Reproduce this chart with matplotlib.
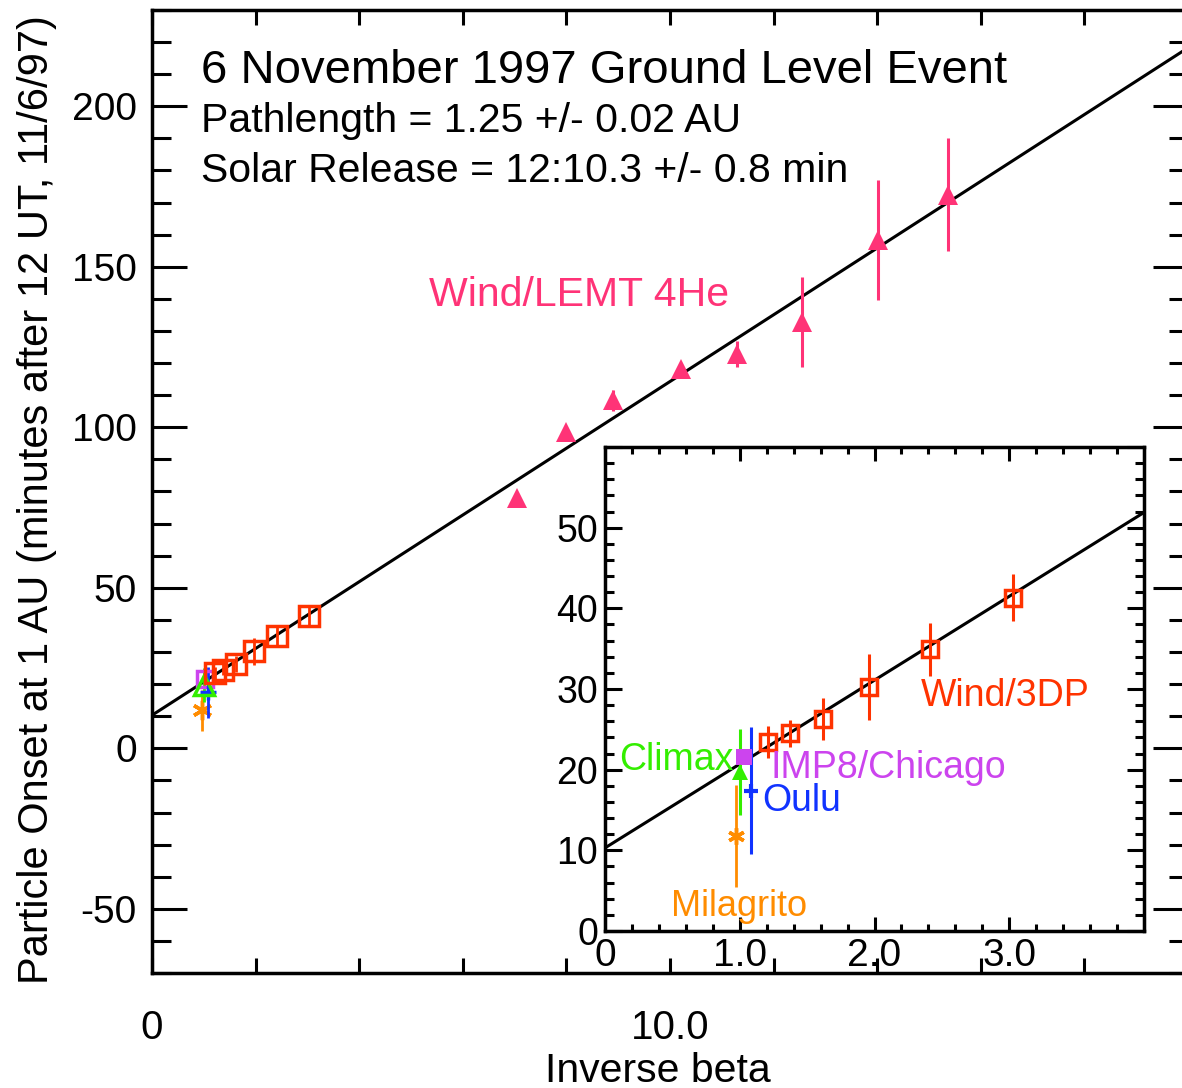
import numpy as np
import matplotlib.pyplot as plt

plt.rcParams['font.family'] = ['Liberation Sans', 'DejaVu Sans']
plt.rcParams['axes.unicode_minus'] = False

W, H = 1182, 1088

# fit parameters (from the annotation)
path_au = 1.25
release_min = 10.3
min_per_au = 8.317

# Wind/LEMT 4He (main panel only)
lemt_x = [7.04, 8.0, 8.89, 10.22, 11.29, 12.54, 14.02, 15.37]
lemt_y = [78.1, 98.4, 108.4, 118.2, 122.9, 132.8, 158.4, 172.5]
lemt_err = [1.5, 1.5, 3.2, 1.5, 4.0, 14.0, 18.7, 17.6]

# Wind/3DP
tdp_x = [1.21, 1.37, 1.62, 1.96, 2.41, 3.03]
tdp_y = [23.4, 24.5, 26.3, 30.2, 34.9, 41.3]
tdp_err = [2.0, 1.7, 2.6, 4.1, 3.3, 2.9]

# neutron monitors / other
climax_x, climax_y, climax_err = [1.00], [19.7], [5.3]
imp8_x, imp8_y = [1.03], [21.6]
oulu_x, oulu_y, oulu_err = [1.08], [17.4], [7.9]
milag_x, milag_y, milag_err = [0.97], [11.8], [6.3]

main_xticks = list(range(0, 21, 2))
main_xlabels = ['0', '', '', '', '', '10.0', '', '', '', '', '']
main_yticks = [-50, 0, 50, 100, 150, 200]
inset_xticks = [0, 1, 2, 3, 4]
inset_xlabels = ['0', '1.0', '2.0', '3.0', '']
inset_yticks = [0, 10, 20, 30, 40, 50, 60]
inset_ylabels = ['0', '10', '20', '30', '40', '50', '']

red = '#FF3300'
pink = '#FF3377'
green = '#33EE00'
purple = '#CC44EE'
blue = '#1133FF'
orange = '#FF8C00'
star = (6, 2, 0)


def fpos(x, y):
    return x / W, 1 - y / H


fig = plt.figure(figsize=(W / 100, H / 100), dpi=100)

# ---------------- main panel
ax = fig.add_axes([152 / W, 1 - 973 / H, 1036 / W, 963 / H])
ax.set_xlim(0, 20)
ax.set_ylim(-70, 230)

xl = np.array([0, 20])
ax.plot(xl, release_min + min_per_au * path_au * xl, color='black', lw=2.2, zorder=2)

ax.errorbar(lemt_x, lemt_y, yerr=lemt_err, fmt='^', color=pink, ms=14, mew=0,
            elinewidth=2.2, capsize=0, zorder=3)
ax.errorbar(milag_x, milag_y, yerr=milag_err, fmt='none', ecolor=orange, elinewidth=2, zorder=3)
ax.plot(milag_x, milag_y, marker=star, color=orange, ms=14, mew=2.5, ls='none', zorder=3)
ax.errorbar(oulu_x, oulu_y, yerr=oulu_err, fmt='+', color=blue, ms=12, mew=2.5,
            elinewidth=2, capsize=0, zorder=3)
ax.errorbar(climax_x, climax_y, yerr=climax_err, fmt='^', color=green, mfc='none',
            ms=14, mew=2.5, elinewidth=2, capsize=0, zorder=3)
ax.plot(imp8_x, imp8_y, 's', color=purple, mfc='none', ms=12, mew=2.5, zorder=3)
ax.errorbar(tdp_x, tdp_y, yerr=tdp_err, fmt='s', color=red, mfc='none', ms=14,
            mew=2.5, elinewidth=2, capsize=0, zorder=4)

for s in ax.spines.values():
    s.set_linewidth(2.5)
ax.set_xticks(main_xticks)
ax.set_xticklabels(main_xlabels)
ax.set_yticks(main_yticks)
ax.set_yticks(np.arange(-70, 231, 10), minor=True)
ax.tick_params(axis='x', which='both', direction='in', top=True, length=11, width=2.2,
               labelsize=29, pad=26)
ax.tick_params(axis='y', which='major', direction='in', right=True, length=25, width=2.2,
               labelsize=28, pad=11)
ax.tick_params(axis='y', which='minor', direction='in', right=True, length=14, width=2.2)

fig.text(*fpos(201, 83), '6 November 1997 Ground Level Event', fontsize=34, va='baseline')
fig.text(*fpos(201, 132), 'Pathlength = 1.25 +/- 0.02 AU', fontsize=29.5, va='baseline')
fig.text(*fpos(201, 182), 'Solar Release = 12:10.3 +/- 0.8 min', fontsize=29.5, va='baseline')
fig.text(*fpos(429, 306), 'Wind/LEMT 4He', fontsize=29.5, color=pink, va='baseline')

fig.text(*fpos(48, 500), 'Particle Onset at 1 AU (minutes after 12 UT, 11/6/97)',
         fontsize=30, rotation=90, rotation_mode='anchor', ha='center', va='baseline')
fig.text(*fpos(658, 1082), 'Inverse beta', fontsize=29.5, ha='center', va='baseline')

# ---------------- inset
ai = fig.add_axes([605 / W, 1 - 931 / H, 539 / W, 484 / H])
ai.set_xlim(0, 4)
ai.set_ylim(0, 60)

xi = np.array([0, 4])
ai.plot(xi, release_min + min_per_au * path_au * xi, color='black', lw=2.2, zorder=2)
ai.errorbar(milag_x, milag_y, yerr=milag_err, fmt='none', ecolor=orange, elinewidth=2, zorder=3)
ai.plot(milag_x, milag_y, marker=star, color=orange, ms=12, mew=2.5, ls='none', zorder=3)
ai.errorbar(climax_x, climax_y, yerr=climax_err, fmt='^', color=green, ms=11, mew=0,
            elinewidth=2.2, capsize=0, zorder=3)
ai.errorbar(oulu_x, oulu_y, yerr=oulu_err, fmt='+', color=blue, ms=10, mew=3,
            elinewidth=2.2, capsize=0, zorder=3)
ai.plot(imp8_x, imp8_y, 's', color=purple, ms=12, mew=0, zorder=3)
ai.errorbar(tdp_x, tdp_y, yerr=tdp_err, fmt='s', color=red, mfc='none', ms=12,
            mew=2.5, elinewidth=2.2, capsize=0, zorder=4)

for s in ai.spines.values():
    s.set_linewidth(2.5)
ai.set_xticks(inset_xticks)
ai.set_xticklabels(inset_xlabels)
ai.set_xticks(np.arange(0, 4.01, 0.2), minor=True)
ai.set_yticks(inset_yticks)
ai.set_yticklabels(inset_ylabels)
ai.set_yticks(np.arange(0, 61, 2), minor=True)
ai.tick_params(axis='x', which='major', direction='in', top=True, length=10, width=2.2,
               labelsize=28, pad=5)
ai.tick_params(axis='x', which='minor', direction='in', top=True, length=5, width=2.2)
ai.tick_params(axis='y', which='major', direction='in', right=True, length=12, width=2.2,
               labelsize=27, pad=5)
ai.tick_params(axis='y', which='minor', direction='in', right=True, length=6.3, width=2.2)

fig.text(*fpos(619, 770), 'Climax', fontsize=27, color=green, va='baseline')
fig.text(*fpos(771, 778), 'IMP8/Chicago', fontsize=27, color=purple, va='baseline')
fig.text(*fpos(762, 811), 'Oulu', fontsize=27, color=blue, va='baseline')
fig.text(*fpos(671, 916), 'Milagrito', fontsize=26, color=orange, va='baseline')
fig.text(*fpos(921, 706), 'Wind/3DP', fontsize=27, color=red, va='baseline')

fig.savefig('out.png', dpi=100)
